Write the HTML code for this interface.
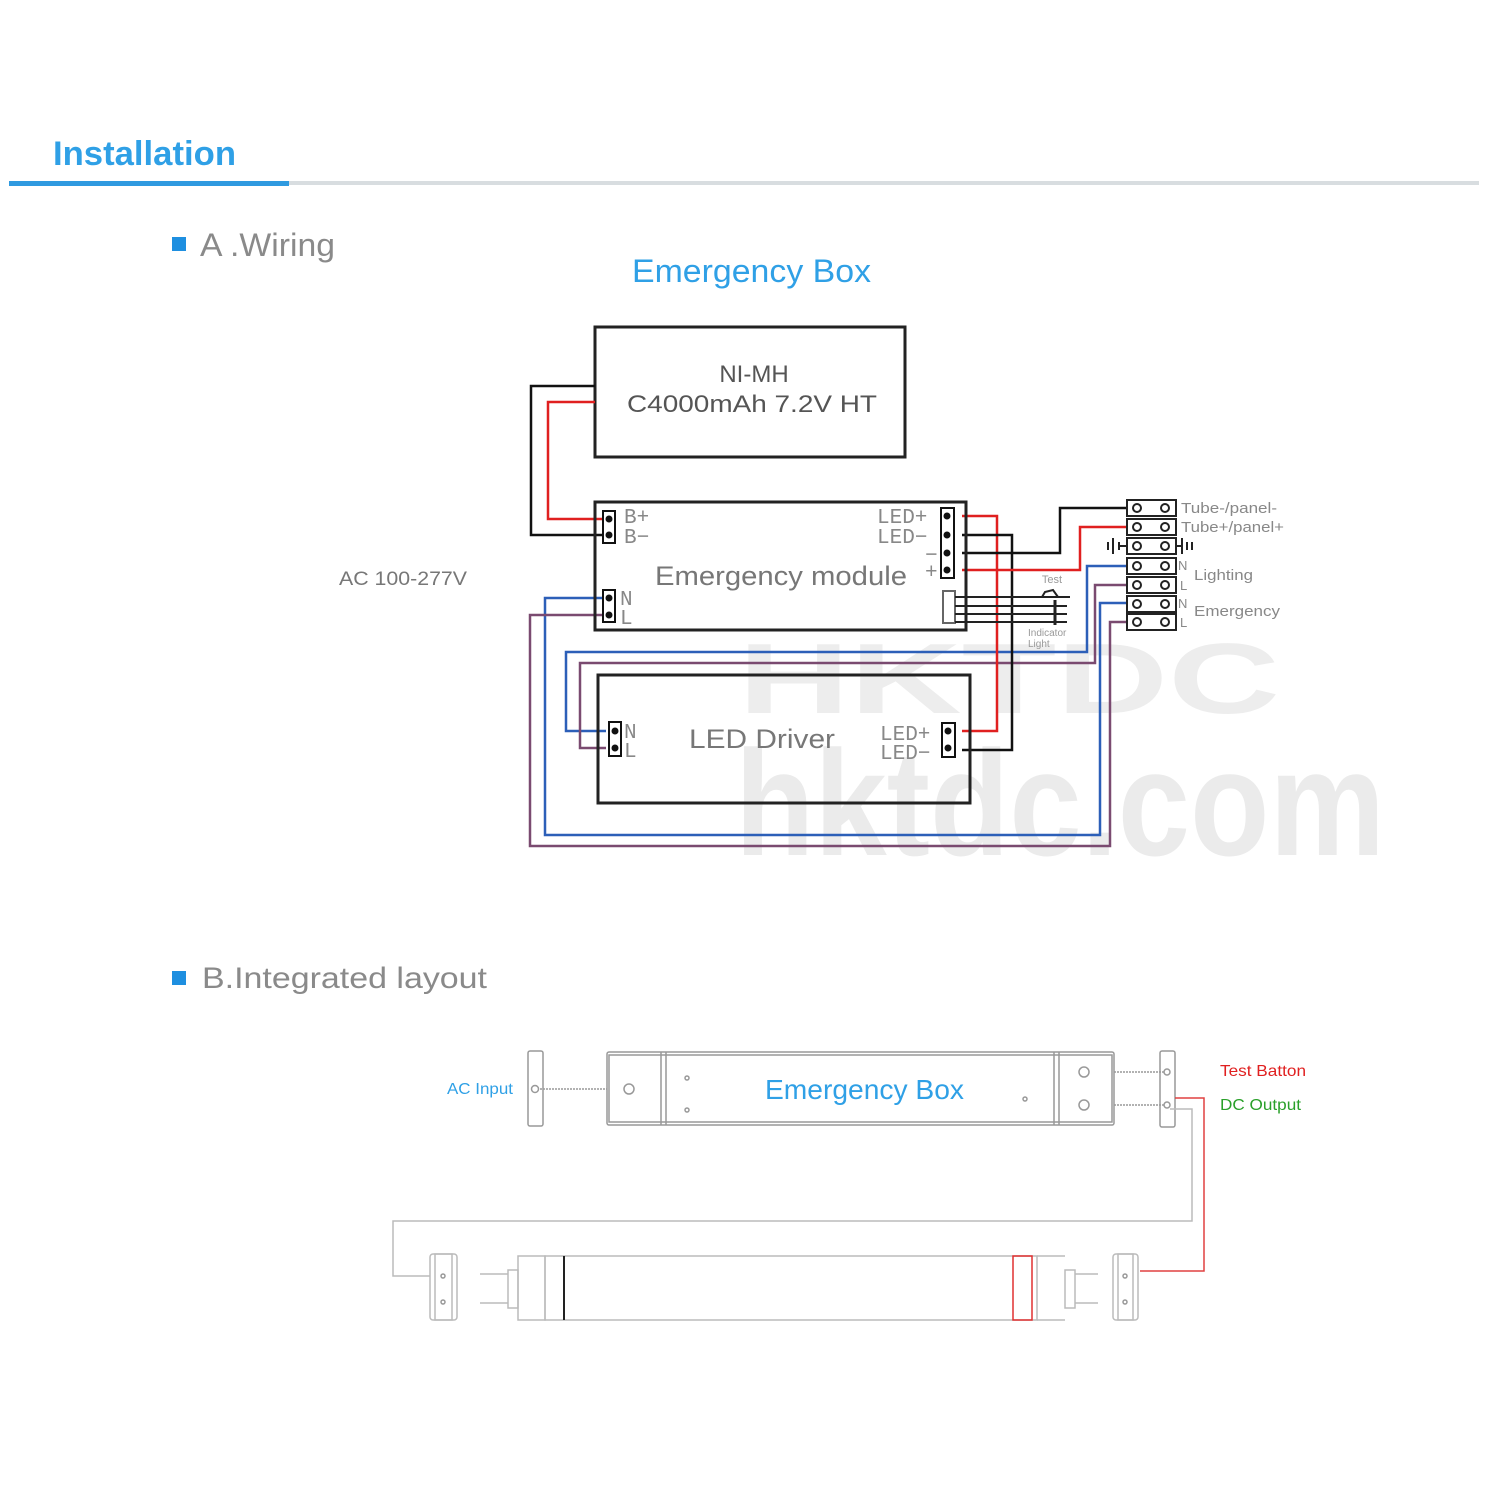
<!DOCTYPE html>
<html><head><meta charset="utf-8"><style>body{margin:0;background:#fff}svg{display:block}</style></head><body>
<svg width="1500" height="1500" viewBox="0 0 1500 1500" xmlns="http://www.w3.org/2000/svg" font-family="Liberation Sans, sans-serif">
<rect width="1500" height="1500" fill="#fff"/>
<!-- header -->
<text x="53" y="165" font-size="34" font-weight="bold" fill="#2fa0e6" textLength="183" lengthAdjust="spacingAndGlyphs">Installation</text>
<rect x="289" y="181" width="1190" height="4" fill="#d8dde0"/>
<rect x="9" y="181" width="280" height="5" fill="#2f9ae0"/>
<rect x="172" y="237" width="14" height="14" fill="#1e8fe0"/>
<text x="200" y="256" font-size="32" fill="#8a8a8a" textLength="135" lengthAdjust="spacingAndGlyphs">A .Wiring</text>
<text x="632" y="282" font-size="32" fill="#2fa0e6" textLength="239" lengthAdjust="spacingAndGlyphs">Emergency Box</text>
<text x="339" y="585" font-size="19" fill="#777" textLength="128" lengthAdjust="spacingAndGlyphs">AC 100-277V</text>
<!-- watermark -->
<text x="738" y="713" font-size="100" font-weight="bold" fill="#ededed" textLength="542" lengthAdjust="spacingAndGlyphs">HKTDC</text>
<text x="735" y="855" font-size="150" font-weight="bold" fill="#ebebeb" textLength="650" lengthAdjust="spacingAndGlyphs">hktdc.com</text>
<!-- battery -->
<rect x="595" y="327" width="310" height="130" fill="none" stroke="#222" stroke-width="3"/>
<text x="754" y="382" font-size="24" fill="#555" text-anchor="middle">NI-MH</text>
<text x="627" y="412" font-size="24" fill="#555" textLength="250" lengthAdjust="spacingAndGlyphs">C4000mAh  7.2V  HT</text>
<!-- wires -->
<g fill="none" stroke-width="2.5">
<polyline points="595,386 531,386 531,535 602,535" stroke="#111"/>
<polyline points="595,402 548,402 548,519 602,519" stroke="#e02020"/>
<polyline points="606,598 545,598 545,835 1100,835 1100,603 1128,603" stroke="#2c5fb8"/>
<polyline points="606,615 530,615 530,846 1110,846 1110,622 1128,622" stroke="#7a4a70"/>
<polyline points="1128,566 1087,566 1087,652 566,652 566,731 606,731" stroke="#2c5fb8"/>
<polyline points="1128,585 1095,585 1095,663 580,663 580,748 606,748" stroke="#7a4a70"/>
<polyline points="962,516 997,516 997,731 962,731" stroke="#e02020"/>
<polyline points="962,535 1012,535 1012,750 962,750" stroke="#111"/>
<polyline points="962,553 1060,553 1060,508 1128,508" stroke="#111"/>
<polyline points="962,570 1080,570 1080,527 1128,527" stroke="#e02020"/>
</g>
<!-- module -->
<rect x="595" y="502" width="371" height="128" fill="none" stroke="#222" stroke-width="3"/>
<text x="655" y="585" font-size="27" fill="#777" textLength="252" lengthAdjust="spacingAndGlyphs">Emergency  module</text>
<g font-family="Liberation Mono, monospace" font-size="21" fill="#888">
<text x="624" y="523">B+</text><text x="624" y="543">B−</text>
<text x="877" y="523">LED+</text><text x="877" y="543">LED−</text>
<text x="925" y="561">−</text><text x="925" y="578">+</text>
<text x="620" y="605">N</text><text x="620" y="624">L</text>
<text x="880" y="740">LED+</text><text x="880" y="759">LED−</text>
<text x="624" y="738">N</text><text x="624" y="757">L</text>
</g>
<g fill="#fff" stroke="#111" stroke-width="2">
<rect x="603" y="511" width="12" height="32"/><rect x="941" y="508" width="13" height="70"/>
<rect x="603" y="590" width="12" height="32"/><rect x="943" y="591" width="12" height="32" stroke="#666"/>
<rect x="609" y="722" width="12" height="34"/><rect x="942" y="723" width="13" height="34"/>
</g>
<g fill="#111">
<circle cx="609" cy="519" r="3.5"/><circle cx="609" cy="535" r="3.5"/>
<circle cx="947" cy="516" r="3.5"/><circle cx="947" cy="535" r="3.5"/><circle cx="947" cy="553" r="3.5"/><circle cx="947" cy="570" r="3.5"/>
<circle cx="609" cy="598" r="3.5"/><circle cx="609" cy="615" r="3.5"/>
<circle cx="615" cy="731" r="3.5"/><circle cx="615" cy="748" r="3.5"/>
<circle cx="948" cy="731" r="3.5"/><circle cx="948" cy="748" r="3.5"/>
</g>
<!-- test / indicator -->
<g stroke="#222" stroke-width="2" fill="none">
<line x1="955" y1="597" x2="1070" y2="597"/><line x1="955" y1="606" x2="1067" y2="606"/>
<line x1="955" y1="614" x2="1067" y2="614"/><line x1="955" y1="622" x2="1067" y2="622"/>
<polyline points="1042,597 1045,592 1053,590 1058,597"/>
<line x1="1055" y1="600" x2="1055" y2="625" stroke-width="3"/>
</g>
<text x="1052" y="583" font-size="11" fill="#999" text-anchor="middle">Test</text>
<text x="1028" y="636" font-size="10" fill="#999">Indicator</text>
<text x="1028" y="647" font-size="10" fill="#999">Light</text>
<!-- driver -->
<rect x="598" y="675" width="372" height="128" fill="none" stroke="#222" stroke-width="3"/>
<text x="689" y="748" font-size="27" fill="#777" textLength="146" lengthAdjust="spacingAndGlyphs">LED  Driver</text>
<!-- terminal blocks -->
<g stroke="#222" stroke-width="2" fill="#fff">
<rect x="1127" y="500" width="49" height="16"/><rect x="1127" y="519" width="49" height="16"/>
<rect x="1127" y="538" width="49" height="16"/><rect x="1127" y="558" width="49" height="16"/>
<rect x="1127" y="577" width="49" height="16"/><rect x="1127" y="596" width="49" height="16"/>
<rect x="1127" y="614" width="49" height="16"/>
</g>
<g stroke="#222" stroke-width="2" fill="none">
<circle cx="1137" cy="508" r="4"/><circle cx="1165" cy="508" r="4"/>
<circle cx="1137" cy="527" r="4"/><circle cx="1165" cy="527" r="4"/>
<circle cx="1137" cy="546" r="4"/><circle cx="1165" cy="546" r="4"/>
<circle cx="1137" cy="566" r="4"/><circle cx="1165" cy="566" r="4"/>
<circle cx="1137" cy="585" r="4"/><circle cx="1165" cy="585" r="4"/>
<circle cx="1137" cy="604" r="4"/><circle cx="1165" cy="604" r="4"/>
<circle cx="1137" cy="622" r="4"/><circle cx="1165" cy="622" r="4"/>
<line x1="1108" y1="542" x2="1108" y2="550"/><line x1="1113" y1="538" x2="1113" y2="554"/>
<line x1="1119" y1="542" x2="1119" y2="550"/><line x1="1119" y1="546" x2="1127" y2="546"/>
<line x1="1176" y1="546" x2="1182" y2="546"/><line x1="1182" y1="538" x2="1182" y2="554"/>
<line x1="1187" y1="542" x2="1187" y2="550"/><line x1="1192" y1="542" x2="1192" y2="550"/>
</g>
<g font-size="15" fill="#888">
<text x="1181" y="513" textLength="96" lengthAdjust="spacingAndGlyphs">Tube-/panel-</text><text x="1181" y="532" textLength="103" lengthAdjust="spacingAndGlyphs">Tube+/panel+</text>
<text x="1178" y="570" font-size="13">N</text><text x="1180" y="590" font-size="13">L</text>
<text x="1194" y="580" textLength="59" lengthAdjust="spacingAndGlyphs">Lighting</text>
<text x="1178" y="608" font-size="13">N</text><text x="1180" y="627" font-size="13">L</text>
<text x="1194" y="616" textLength="86" lengthAdjust="spacingAndGlyphs">Emergency</text>
</g>
<!-- B -->
<rect x="172" y="971" width="14" height="14" fill="#1e8fe0"/>
<text x="202" y="988" font-size="30" fill="#8a8a8a" textLength="285" lengthAdjust="spacingAndGlyphs">B.Integrated layout</text>
<g fill="none" stroke="#999" stroke-width="1.5">
<rect x="528" y="1051" width="15" height="75" rx="2"/>
<rect x="607" y="1052" width="507" height="73" rx="2"/>
<rect x="609" y="1055" width="503" height="67"/>
<line x1="661" y1="1052" x2="661" y2="1125"/><line x1="666" y1="1052" x2="666" y2="1125"/>
<line x1="1054" y1="1052" x2="1054" y2="1125"/><line x1="1059" y1="1052" x2="1059" y2="1125"/>
<rect x="1160" y="1051" width="15" height="76" rx="2"/>
<circle cx="535" cy="1089" r="3.5"/><circle cx="629" cy="1089" r="5"/>
<circle cx="687" cy="1078" r="2"/><circle cx="687" cy="1110" r="2"/><circle cx="1025" cy="1099" r="2"/>
<circle cx="1084" cy="1072" r="5"/><circle cx="1084" cy="1105" r="5"/>
<circle cx="1167" cy="1072" r="3"/><circle cx="1167" cy="1105" r="3"/>
<line x1="540" y1="1089" x2="607" y2="1089" stroke-dasharray="2,1"/>
<line x1="1114" y1="1072" x2="1164" y2="1072" stroke-dasharray="2,1"/>
<line x1="1114" y1="1105" x2="1164" y2="1105" stroke-dasharray="2,1"/>
<polyline points="1170,1109 1192,1109 1192,1221 393,1221 393,1276 430,1276" stroke="#bbb"/>
<!-- lamp -->
<rect x="430" y="1254" width="27" height="66" rx="3" stroke="#bbb"/>
<rect x="435" y="1254" width="17" height="66" stroke="#bbb"/>
<circle cx="443" cy="1276" r="2"/><circle cx="443" cy="1302" r="2"/>
<rect x="1113" y="1254" width="25" height="66" rx="3" stroke="#bbb"/>
<rect x="1118" y="1254" width="15" height="66" stroke="#bbb"/>
<circle cx="1125" cy="1276" r="2"/><circle cx="1125" cy="1302" r="2"/>
<rect x="545" y="1256" width="492" height="64" stroke="#bbb"/>
<rect x="518" y="1256" width="27" height="64" stroke="#bbb"/>
<rect x="508" y="1270" width="10" height="38" stroke="#bbb"/>
<line x1="480" y1="1274" x2="508" y2="1274" stroke="#bbb"/><line x1="480" y1="1303" x2="508" y2="1303" stroke="#bbb"/>
<line x1="1037" y1="1256" x2="1065" y2="1256" stroke="#bbb"/><line x1="1037" y1="1320" x2="1065" y2="1320" stroke="#bbb"/>
<rect x="1065" y="1270" width="10" height="38" stroke="#bbb"/>
<line x1="1075" y1="1274" x2="1098" y2="1274" stroke="#bbb"/><line x1="1075" y1="1303" x2="1098" y2="1303" stroke="#bbb"/>
</g>
<line x1="564" y1="1256" x2="564" y2="1320" stroke="#222" stroke-width="2"/>
<rect x="1013" y="1256" width="19" height="64" fill="none" stroke="#e03030" stroke-width="1.5"/>
<polyline points="1175,1098 1204,1098 1204,1271 1140,1271" fill="none" stroke="#e04040" stroke-width="1.5"/>
<text x="765" y="1099" font-size="28" fill="#2fa0e6" textLength="199" lengthAdjust="spacingAndGlyphs">Emergency Box</text>
<text x="447" y="1094" font-size="16" fill="#2fa0e6" textLength="66" lengthAdjust="spacingAndGlyphs">AC Input</text>
<text x="1220" y="1076" font-size="16" fill="#e02020" textLength="86" lengthAdjust="spacingAndGlyphs">Test Batton</text>
<text x="1220" y="1110" font-size="16" fill="#2aa02a" textLength="81" lengthAdjust="spacingAndGlyphs">DC Output</text>
</svg>
</body></html>
